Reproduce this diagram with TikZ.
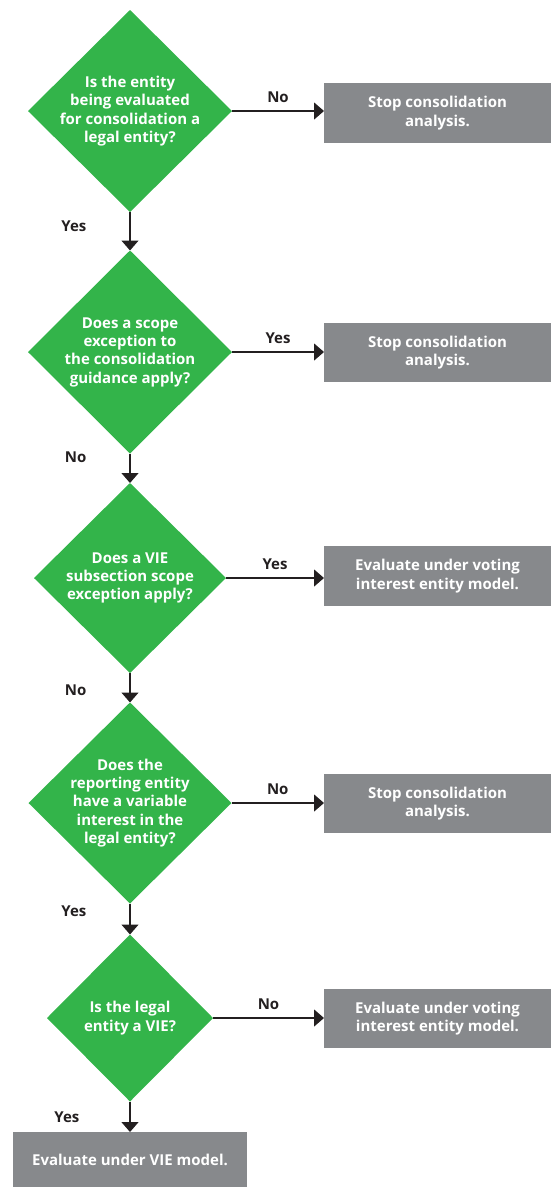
\documentclass[tikz,border=0pt]{standalone}
\usepackage{fontspec}
\setmainfont{Open Sans}
\usetikzlibrary{shapes.geometric,arrows.meta}
\definecolor{qgreen}{RGB}{51,180,74}
\definecolor{endgrey}{RGB}{135,137,140}
\definecolor{ink}{RGB}{35,31,32}

\begin{document}
\begin{tikzpicture}[x=1pt, y=-1pt,
    font=\fontsize{15}{18.3}\selectfont\bfseries,
    quest/.style={diamond, fill=qgreen, inner sep=0pt, outer sep=0pt},
    qtext/.style={text=white, align=center, inner sep=0pt},
    endbox/.style={rectangle, fill=endgrey, text=white, align=center,
      minimum width=227pt, minimum height=60pt, inner sep=0pt, outer sep=0pt},
    flow/.style={draw=ink, line width=1.3pt, -{Triangle[width=17pt,length=10pt]}},
    lbl/.style={text=ink, inner sep=1pt}]
    \useasboundingbox (0,0) rectangle (553,1187);

    % questions
    \node[quest, minimum width=204pt, minimum height=202pt,
      label={[qtext]center:{Is the entity\\being evaluated\\for consolidation a\\legal entity?}}] (q1) at (130,111) {};
    \node[quest, minimum width=204pt, minimum height=203pt,
      label={[qtext]center:{Does a scope\\exception to\\the consolidation\\guidance apply?}}] (q2) at (130,352) {};
    \node[quest, minimum width=192pt, minimum height=190pt,
      label={[qtext]center:{Does a VIE\\subsection scope\\exception apply?}}] (q3) at (130,578) {};
    \node[quest, minimum width=203pt, minimum height=201pt,
      label={[qtext]center:{Does the\\reporting entity\\have a variable\\interest in the\\legal entity?}}] (q4) at (130,803) {};
    \node[quest, minimum width=166pt, minimum height=167pt,
      label={[qtext]center:{Is the legal\\entity a VIE?}}] (q5) at (130,1018) {};

    % outcomes
    \node[endbox] (b1) at (437.5,113) {Stop consolidation\\analysis.};
    \node[endbox, minimum height=59pt] (b2) at (437.5,352.5) {Stop consolidation\\analysis.};
    \node[endbox] (b3) at (437.5,576) {Evaluate under voting\\interest entity model.};
    \node[endbox, minimum height=59pt] (b4) at (437.5,803.5) {Stop consolidation\\analysis.};
    \node[endbox, minimum height=59pt] (b5) at (437.5,1018.5) {Evaluate under voting\\interest entity model.};
    \node[endbox, minimum width=234pt, minimum height=55pt] (b6) at (130,1159.5) {Evaluate under VIE model.};

    \draw[flow] (q1.east) -- node[lbl, above=7pt] (n1) {No} (q1.east -| b1.west);
    \draw[flow] (q2.east) -- node[lbl, above=7pt] (n2) {Yes} (q2.east -| b2.west);
    \draw[flow] (q3.east) -- node[lbl, above=7pt] (n3) {Yes} (q3.east -| b3.west);
    \draw[flow] (q4.east) -- node[lbl, above=7pt] (n4) {No} (q4.east -| b4.west);
    \draw[flow] (q5.east) -- node[lbl, above=7pt] (n5) {No} (q5.east -| b5.west);

    \draw[flow] (q1.south) -- node[lbl, pos=0.38, left=42pt] (y1) {Yes} (q2.north);
    \draw[flow] (q2.south) -- node[lbl, pos=0.13, left=42pt] (y2) {No} (q3.north);
    \draw[flow] (q3.south) -- node[lbl, pos=0.59, left=42pt] (y3) {No} (q4.north);
    \draw[flow] (q4.south) -- node[lbl, pos=0.25, left=42pt] (y4) {Yes} (q5.north);
    \draw[flow] (q5.south) -- node[lbl, pos=0.5, left=49pt] (y5) {Yes} (b6.north);
  \end{tikzpicture}
\end{document}
